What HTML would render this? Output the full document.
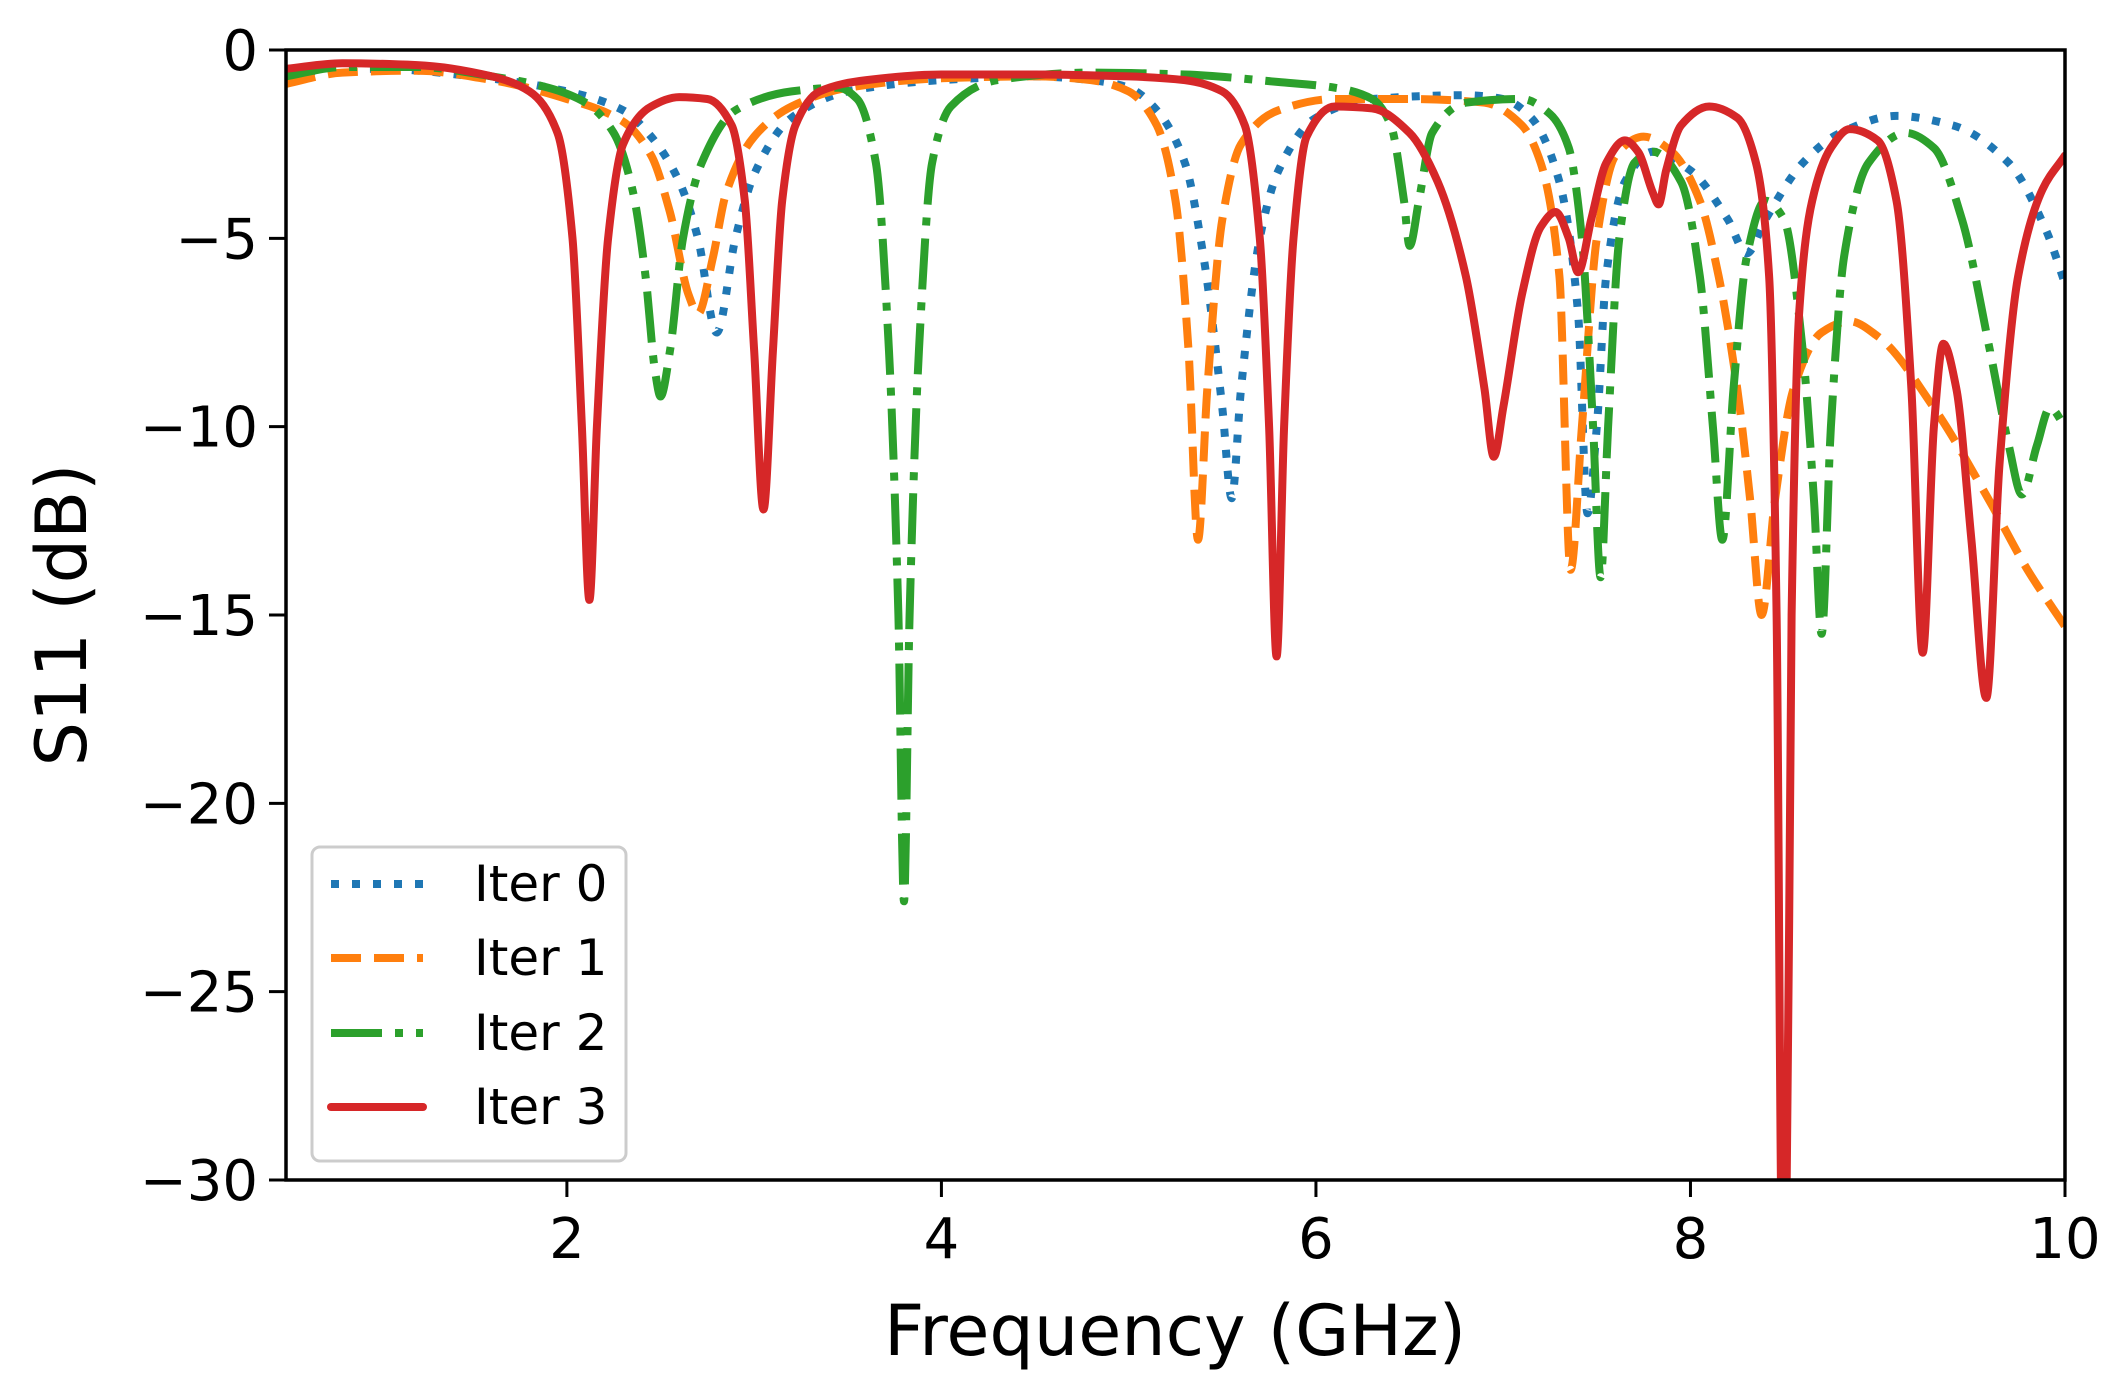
<!DOCTYPE html>
<html><head><meta charset="utf-8"><style>
html,body{margin:0;padding:0;background:#fff;}
svg{display:block;font-family:"DejaVu Sans","Liberation Sans",sans-serif;}
</style></head><body>
<svg id="chart" width="2125" height="1390" viewBox="0 0 2125 1390" xmlns="http://www.w3.org/2000/svg">
<defs><clipPath id="plotclip"><rect x="286" y="50" width="1779" height="1130"/></clipPath></defs>
<g id="series" clip-path="url(#plotclip)"></g>
<g id="axes"></g>
<text x="1175" y="1355" font-size="70" text-anchor="middle">Frequency (GHz)</text>
<text x="0" y="0" font-size="70" text-anchor="middle" transform="translate(86,615) rotate(-90)">S11 (dB)</text>
<g id="legend"></g>
</svg>
<script>
const xTicks = [2, 4, 6, 8, 10];
const yTicks = [0, -5, -10, -15, -20, -25, -30];
const seriesNames = ["Iter 0", "Iter 1", "Iter 2", "Iter 3"];
const iter0F = [0.5,1.0,1.5,2.0,2.3,2.45,2.6,2.7,2.8,2.9,3.0,3.2,3.5,4.0,4.5,4.8,5.0,5.15,5.3,5.4,5.5,5.55,5.6,5.7,5.8,6.0,6.3,6.8,7.0,7.15,7.3,7.4,7.45,7.5,7.55,7.65,7.8,8.0,8.2,8.3,8.4,8.6,8.8,9.1,9.4,9.7,9.9,10];
const iter0V = [-0.6,-0.5,-0.7,-1.1,-1.6,-2.3,-3.5,-5,-7.5,-5,-3.3,-1.8,-1.1,-0.8,-0.7,-0.8,-1.0,-1.6,-3,-5.5,-9.5,-11.9,-9,-5,-3.2,-1.8,-1.3,-1.2,-1.3,-1.8,-3.5,-7,-12.3,-10,-6,-3.5,-2.7,-3.2,-4.5,-5.4,-4.5,-3,-2.2,-1.75,-2,-3,-4.8,-6.2];
const iter1F = [0.5,0.8,1.2,1.6,2.0,2.3,2.45,2.55,2.65,2.7,2.78,2.85,3.0,3.2,3.5,4.0,4.5,4.8,5.0,5.15,5.25,5.32,5.37,5.42,5.5,5.6,5.8,6.1,6.5,6.9,7.1,7.2,7.3,7.36,7.42,7.5,7.6,7.75,7.9,8.05,8.15,8.25,8.32,8.38,8.45,8.55,8.7,8.85,9.0,9.3,9.6,9.8,10];
const iter1V = [-0.9,-0.6,-0.55,-0.8,-1.3,-1.9,-2.8,-4.3,-6.5,-7,-5.5,-3.8,-2.3,-1.5,-1.0,-0.75,-0.7,-0.8,-1.1,-2,-4,-8,-13,-9,-4.5,-2.5,-1.6,-1.3,-1.3,-1.4,-2,-3,-6,-13.8,-10,-5,-2.8,-2.3,-2.7,-4,-6,-9,-12,-15,-12,-9,-7.5,-7.2,-7.6,-9.5,-12,-13.8,-15.3];
const iter2F = [0.5,0.8,1.2,1.6,1.9,2.1,2.25,2.35,2.42,2.47,2.5,2.55,2.62,2.72,2.9,3.2,3.45,3.55,3.65,3.72,3.77,3.8,3.83,3.88,3.95,4.05,4.3,4.8,5.3,5.8,6.1,6.3,6.4,6.47,6.5,6.55,6.62,6.8,7.1,7.25,7.35,7.42,7.48,7.52,7.56,7.62,7.7,7.8,7.95,8.05,8.12,8.17,8.23,8.3,8.4,8.5,8.6,8.66,8.7,8.75,8.82,8.95,9.15,9.3,9.45,9.6,9.7,9.77,9.85,9.92,10];
const iter2V = [-0.7,-0.45,-0.45,-0.7,-1.0,-1.4,-2.2,-3.7,-6,-8.5,-9.2,-8,-5,-3,-1.6,-1.1,-1.0,-1.3,-3,-8,-15,-22.6,-15,-8,-3,-1.5,-0.8,-0.6,-0.65,-0.85,-1.0,-1.3,-2,-4,-5.2,-4,-2.2,-1.4,-1.3,-1.7,-2.6,-5,-10,-14,-10,-5,-3,-2.7,-3.5,-6,-10,-13,-9,-5.5,-4,-4.5,-8,-12,-15.5,-10,-5.5,-3,-2.2,-2.6,-4.5,-8,-10.5,-11.8,-10.5,-9.5,-10];
const iter3F = [0.5,0.8,1.2,1.6,1.8,1.95,2.03,2.08,2.12,2.16,2.22,2.3,2.45,2.6,2.75,2.88,2.95,3.0,3.05,3.1,3.15,3.22,3.35,3.6,4.0,4.5,5.0,5.3,5.5,5.62,5.7,5.75,5.79,5.83,5.88,5.95,6.1,6.3,6.5,6.65,6.8,6.9,6.95,7.0,7.1,7.2,7.28,7.35,7.4,7.47,7.55,7.65,7.72,7.8,7.83,7.87,7.95,8.1,8.25,8.35,8.42,8.46,8.49,8.51,8.54,8.58,8.65,8.75,8.85,9.0,9.1,9.18,9.24,9.3,9.35,9.42,9.5,9.58,9.65,9.75,9.88,10];
const iter3V = [-0.5,-0.35,-0.4,-0.7,-1.1,-2.2,-5,-10,-14.6,-10,-5,-2.5,-1.5,-1.25,-1.3,-2,-4,-8,-12.2,-8,-4,-2,-1.1,-0.8,-0.65,-0.65,-0.7,-0.8,-1.1,-2,-5,-10,-16.1,-10,-5,-2.3,-1.5,-1.55,-2.2,-3.5,-6,-9,-10.8,-9.5,-6.5,-4.7,-4.3,-5,-5.9,-4.5,-3,-2.4,-2.7,-3.8,-4.1,-3.2,-2,-1.5,-1.8,-3,-6,-15,-32,-32,-15,-7,-4,-2.6,-2.1,-2.4,-4,-9,-16,-10,-7.8,-9,-13,-17.2,-11,-6,-3.7,-2.8];

const L=286,R=2065,T=50,B=1180,X0=0.5,X1=10,Y0=0,Y1=-30;
const sx=f=>L+(f-X0)/(X1-X0)*(R-L);
const sy=v=>T+(v-Y0)/(Y1-Y0)*(B-T);
const NS="http://www.w3.org/2000/svg";
function mk(tag,attrs){const e=document.createElementNS(NS,tag);for(const k in attrs)e.setAttribute(k,attrs[k]);return e;}

// monotone cubic (Fritsch-Carlson) path through screen points
function monoPath(xs,ys){
  const n=xs.length, dx=[], m=[], t=new Array(n);
  for(let i=0;i<n-1;i++){dx.push(xs[i+1]-xs[i]); m.push((ys[i+1]-ys[i])/(xs[i+1]-xs[i]));}
  t[0]=m[0]; t[n-1]=m[n-2];
  for(let i=1;i<n-1;i++){
    if(m[i-1]*m[i]<=0) t[i]=0;
    else { const w1=2*dx[i]+dx[i-1], w2=dx[i]+2*dx[i-1]; t[i]=(w1+w2)/(w1/m[i-1]+w2/m[i]); }
  }
  let d="M"+xs[0].toFixed(1)+","+ys[0].toFixed(1);
  for(let i=0;i<n-1;i++){
    const h=dx[i]/3;
    d+="C"+(xs[i]+h).toFixed(1)+","+(ys[i]+t[i]*h).toFixed(1)+" "+(xs[i+1]-h).toFixed(1)+","+(ys[i+1]-t[i+1]*h).toFixed(1)+" "+xs[i+1].toFixed(1)+","+ys[i+1].toFixed(1);
  }
  return d;
}

const styles=[
 {c:"#1f77b4",d:"8 13",cap:"butt"},
 {c:"#ff7f0e",d:"30 13",cap:"butt"},
 {c:"#2ca02c",d:"51 13 8 13",cap:"butt"},
 {c:"#d62728",d:"",cap:"round"}
];
const allF=[iter0F,iter1F,iter2F,iter3F], allV=[iter0V,iter1V,iter2V,iter3V];
const sg=document.getElementById("series");
const lineNames=["iter-0-line","iter-1-line","iter-2-line","iter-3-line"];
for(let s=0;s<4;s++){
  const d=monoPath(allF[s].map(sx),allV[s].map(sy));
  const p=mk("path",{d:d,fill:"none",stroke:styles[s].c,"stroke-width":"8","stroke-linejoin":"round","stroke-linecap":styles[s].cap});
  if(styles[s].d)p.setAttribute("stroke-dasharray",styles[s].d);
  
  
  sg.appendChild(p);
}

const ax=document.getElementById("axes");
const frame=mk("rect",{x:L,y:T,width:R-L,height:B-T,fill:"none",stroke:"#000","stroke-width":"3.5"});


ax.appendChild(frame);
xTicks.forEach(t=>{
  const x=sx(t);
  const tk=mk("line",{x1:x,y1:B,x2:x,y2:B+17,stroke:"#000","stroke-width":"3"});
  
  
  ax.appendChild(tk);
  const tx=mk("text",{x:x,y:B+78,"font-size":"56","text-anchor":"middle"});
  tx.textContent=String(t);
  
  
  ax.appendChild(tx);
});
yTicks.forEach(t=>{
  const y=sy(t);
  const tk=mk("line",{x1:L-17,y1:y,x2:L,y2:y,stroke:"#000","stroke-width":"3"});
  
  
  ax.appendChild(tk);
  const tx=mk("text",{x:L-28,y:y+20,"font-size":"56","text-anchor":"end"});
  tx.textContent=t<0?"\u2212"+Math.abs(t):String(t);
  
  
  ax.appendChild(tx);
});

const lg=document.getElementById("legend");
const box=mk("rect",{x:312,y:847,width:314,height:314,rx:8,fill:"#fff","fill-opacity":"0.8",stroke:"#ccc","stroke-width":"3"});


lg.appendChild(box);
const ly=[884,958,1033,1107];
for(let s=0;s<4;s++){
  const ln=mk("line",{x1:331,y1:ly[s],x2:423,y2:ly[s],stroke:styles[s].c,"stroke-width":"8","stroke-linecap":styles[s].cap});
  if(styles[s].d)ln.setAttribute("stroke-dasharray",styles[s].d);
  
  
  lg.appendChild(ln);
  const tx=mk("text",{x:474,y:ly[s]+17,"font-size":"50"});
  tx.textContent=seriesNames[s];
  
  
  lg.appendChild(tx);
}
</script>
</body></html>
